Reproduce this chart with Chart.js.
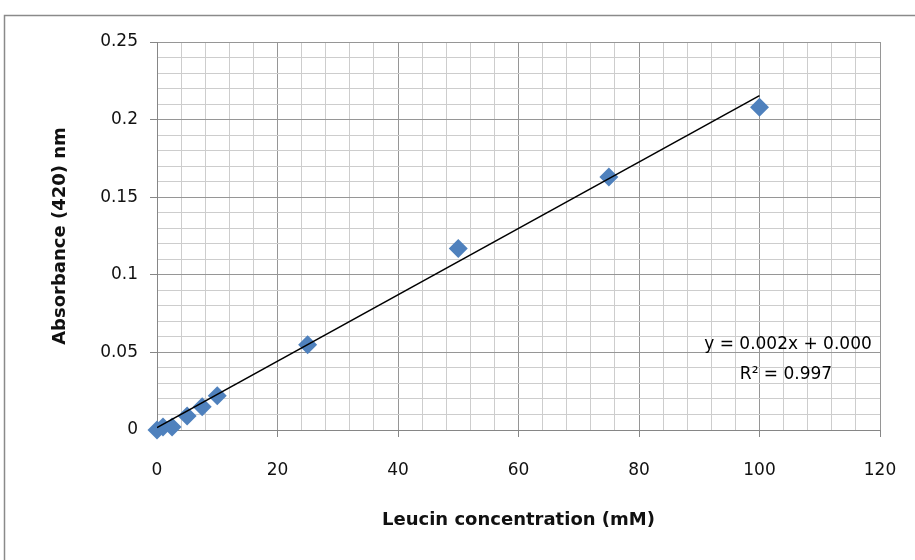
<!DOCTYPE html>
<html>
<head>
<meta charset="utf-8">
<script src="https://cdn.jsdelivr.net/npm/chart.js@4.4.1/dist/chart.umd.min.js"></script>
<style>
  html, body { margin: 0; padding: 0; background: #fff; }
  canvas { display: block; }
</style>
</head>
<body>
<canvas id="chart" width="915" height="560"></canvas>
<script>
// data
const concentrations = [0, 1, 2.5, 5, 7.5, 10, 25, 50, 75, 100];
const absorbances = [0.000, 0.002, 0.002, 0.009, 0.015, 0.022, 0.055, 0.117, 0.163, 0.208];
const trendX = [0, 100];
const trendY = [0.0015, 0.2155];
const xMajorTicks = [0, 20, 40, 60, 80, 100, 120];
const yMajorTicks = [0, 0.05, 0.1, 0.15, 0.2, 0.25];
const equationLines = ['y = 0.002x + 0.000', 'R² = 0.997'];

const FONT = 'DejaVu Sans';
const MAJOR = '#969696';
const MINOR = '#cdcdcd';

const isMajorX = v => xMajorTicks.some(t => Math.abs(t - v) < 1e-6);
const isMajorY = v => yMajorTicks.some(t => Math.abs(t - v) < 1e-6);

// outer frame + trendline equation
const decor = {
  id: 'decor',
  beforeDraw(chart) {
    const ctx = chart.ctx;
    ctx.save();
    ctx.fillStyle = '#fff';
    ctx.fillRect(0, 0, chart.width, chart.height);
    ctx.strokeStyle = '#8a8a8a';
    ctx.lineWidth = 1.5;
    ctx.beginPath();
    ctx.moveTo(4.5, chart.height + 5);
    ctx.lineTo(4.5, 15.5);
    ctx.lineTo(chart.width + 5, 15.5);
    ctx.stroke();
    ctx.restore();
  },
  afterDraw(chart) {
    const ctx = chart.ctx;
    ctx.save();
    ctx.fillStyle = '#000';
    ctx.font = '17px "' + FONT + '"';
    ctx.textAlign = 'center';
    ctx.textBaseline = 'middle';
    ctx.fillText(equationLines[0], 788, 345);
    ctx.fillText(equationLines[1], 786, 375);
    ctx.restore();
  }
};

const ctx = document.getElementById('chart').getContext('2d');
new Chart(ctx, {
  type: 'scatter',
  data: {
    datasets: [
      {
        type: 'line',
        label: 'Trend',
        data: trendX.map((x, i) => ({ x: x, y: trendY[i] })),
        borderColor: '#000',
        borderWidth: 1.5,
        pointRadius: 0,
        fill: false,
        order: 0
      },
      {
        label: 'Absorbance',
        data: concentrations.map((x, i) => ({ x: x, y: absorbances[i] })),
        pointStyle: 'rectRot',
        pointRadius: 9.5,
        backgroundColor: '#4f81bd',
        borderColor: '#4f81bd',
        borderWidth: 0,
        clip: false,
        order: 1
      }
    ]
  },
  options: {
    responsive: false,
    animation: false,
    layout: { padding: { top: 42, right: 35, left: 0, bottom: 0 } },
    plugins: {
      legend: { display: false },
      tooltip: { enabled: false }
    },
    scales: {
      x: {
        type: 'linear',
        min: 0,
        max: 120,
        afterFit(scale) {
          scale.height = 130;
          scale.paddingRight = 35; // keep plot right edge at 880
        },
        ticks: {
          stepSize: 4,
          autoSkip: false,
          maxRotation: 0,
          padding: 23,
          color: '#111',
          font: { family: FONT, size: 17 },
          callback: v => isMajorX(v) ? String(v) : ''
        },
        grid: {
          color: c => isMajorX(c.tick.value) ? MAJOR : MINOR,
          tickColor: c => isMajorX(c.tick.value) ? '#868686' : 'rgba(0,0,0,0)',
          tickLength: 7,
          lineWidth: 1
        },
        border: { color: '#868686', width: 1 },
        title: {
          display: true,
          text: 'Leucin concentration (mM)',
          color: '#111',
          font: { family: FONT, size: 18, weight: 'bold' },
          padding: { top: 0, bottom: 29 }
        }
      },
      y: {
        type: 'linear',
        min: 0,
        max: 0.25,
        afterFit(scale) { scale.width = 157; },
        ticks: {
          stepSize: 0.01,
          autoSkip: false,
          padding: 12,
          color: '#111',
          font: { family: FONT, size: 17 },
          callback: v => isMajorY(v) ? String(Math.round(v * 100) / 100) : ''
        },
        grid: {
          color: c => isMajorY(c.tick.value) ? MAJOR : MINOR,
          tickColor: c => isMajorY(c.tick.value) ? '#868686' : 'rgba(0,0,0,0)',
          tickLength: 7,
          lineWidth: 1
        },
        border: { color: '#868686', width: 1 },
        title: {
          display: true,
          text: 'Absorbance (420) nm',
          color: '#111',
          font: { family: FONT, size: 18, weight: 'bold' },
          padding: { top: 50, bottom: 0 }
        }
      }
    }
  },
  plugins: [decor]
});
</script>
</body>
</html>
